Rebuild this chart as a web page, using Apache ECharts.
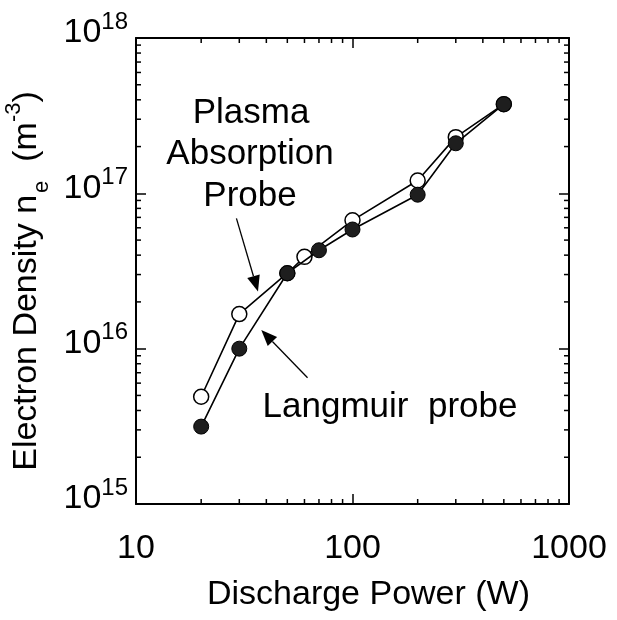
<!DOCTYPE html>
<html><head><meta charset="utf-8">
<script src="https://cdn.jsdelivr.net/npm/echarts@6/dist/echarts.min.js"></script>
<style>html,body{margin:0;padding:0;background:#fff}#c{width:617px;height:620px}</style>
</head><body><div id="c"></div>
<script>
// ---- data ----
const plasmaPower = [20, 30, 50, 60, 100, 200, 300, 500];
const plasmaDensity = [4.9e15, 1.67e16, 3.06e16, 3.9e16, 6.7e16, 1.21e17, 2.3e17, 3.75e17];
const langmuirPower = [20, 30, 50, 70, 100, 200, 300, 500];
const langmuirDensity = [3.15e15, 1.0e16, 3.06e16, 4.3e16, 5.85e16, 9.8e16, 2.1e17, 3.75e17];
const xMinorTicks = [20, 30, 40, 50, 60, 70, 80, 90, 200, 300, 400, 500, 600, 700, 800, 900];
const yMinorTicks = [2e15, 3e15, 4e15, 5e15, 6e15, 7e15, 8e15, 9e15,
                     2e16, 3e16, 4e16, 5e16, 6e16, 7e16, 8e16, 9e16,
                     2e17, 3e17, 4e17, 5e17, 6e17, 7e17, 8e17, 9e17];
const xRange = [10, 1000];
const yRange = [1e15, 1e18];
// annotation anchors (data space): [tailX, tailY, tipX, tipY]
const plasmaArrow = [29.1, 6.9e16, 36.6, 2.33e16];
const langmuirArrow = [62.0, 6.5e15, 37.9, 1.32e16];

const FONT = '"Liberation Sans", Arial, Helvetica, sans-serif';
const chart = echarts.init(document.getElementById('c'), null, {renderer: 'canvas'});

function supLabel(v) {
  const e = Math.round(Math.log10(v));
  return '{b|10}{s|' + e + '}';
}
const supRich = {
  b: {fontSize: 34, fontFamily: FONT, color: '#000', lineHeight: 40, verticalAlign: 'bottom'},
  s: {fontSize: 24, fontFamily: FONT, color: '#000', lineHeight: 24, verticalAlign: 'top'}
};

function minorX(params, api) {
  const v = api.value(0);
  const b = api.coord([v, yRange[0]]);
  const t = api.coord([v, yRange[1]]);
  return {type: 'group', children: [
    {type: 'line', shape: {x1: b[0], y1: b[1], x2: b[0], y2: b[1] - 5}, style: {stroke: '#000', lineWidth: 1.5}},
    {type: 'line', shape: {x1: t[0], y1: t[1], x2: t[0], y2: t[1] + 5}, style: {stroke: '#000', lineWidth: 1.5}}
  ]};
}
function minorY(params, api) {
  const v = api.value(1);
  const l = api.coord([xRange[0], v]);
  const r = api.coord([xRange[1], v]);
  return {type: 'group', children: [
    {type: 'line', shape: {x1: l[0], y1: l[1], x2: l[0] + 5, y2: l[1]}, style: {stroke: '#000', lineWidth: 1.5}},
    {type: 'line', shape: {x1: r[0], y1: r[1], x2: r[0] - 5, y2: r[1]}, style: {stroke: '#000', lineWidth: 1.5}}
  ]};
}

const axisCommon = {
  type: 'log', logBase: 10,
  axisLine: {show: true, lineStyle: {color: '#000', width: 2}},
  axisTick: {show: true, inside: true, length: 10, lineStyle: {color: '#000', width: 1.5}},
  splitLine: {show: false},
  minorTick: {show: false}
};

chart.setOption({
  animation: false,
  backgroundColor: '#fff',
  grid: {left: 136, right: 48, top: 38, bottom: 116, containLabel: false, outerBoundsMode: 'none'},
  xAxis: [
    Object.assign({}, axisCommon, {
      position: 'bottom', min: xRange[0], max: xRange[1],
      axisLabel: {margin: 28, fontSize: 34, fontFamily: FONT, color: '#000', formatter: v => String(Math.round(v))},
      name: 'Discharge Power (W)', nameLocation: 'middle', nameGap: 74,
      nameTextStyle: {fontSize: 34, fontFamily: FONT, color: '#000', padding: [0, 0, 0, 32]}
    }),
    Object.assign({}, axisCommon, {
      position: 'top', min: xRange[0], max: xRange[1], axisLabel: {show: false}
    })
  ],
  yAxis: [
    Object.assign({}, axisCommon, {
      position: 'left', min: yRange[0], max: yRange[1],
      axisLabel: {margin: 8, formatter: supLabel, rich: supRich, padding: [0, 0, 16, 0]},
      name: '{t|Electron Density n}{sub|e}{t|  (m}{sup|-3}{t|)}', nameLocation: 'middle', nameRotate: 90, nameGap: 74,
      nameTextStyle: {
        padding: [0, 20, 0, 0],
        rich: {
          t: {fontSize: 34, fontFamily: FONT, color: '#000', lineHeight: 40, verticalAlign: 'middle'},
          sub: {fontSize: 22, fontFamily: FONT, color: '#000', lineHeight: 22, verticalAlign: 'bottom', padding: [0, 0, -6, 2]},
          sup: {fontSize: 22, fontFamily: FONT, color: '#000', lineHeight: 22, verticalAlign: 'top', padding: [-4, 0, 0, 0]}
        }
      }
    }),
    Object.assign({}, axisCommon, {
      position: 'right', min: yRange[0], max: yRange[1], axisLabel: {show: false}
    })
  ],
  series: [
    {type: 'custom', renderItem: minorX, data: xMinorTicks.map(v => [v, yRange[0]]), silent: true, z: 1},
    {type: 'custom', renderItem: minorY, data: yMinorTicks.map(v => [xRange[0], v]), silent: true, z: 1},
    {
      name: 'Plasma Absorption Probe', type: 'line', z: 3,
      data: plasmaPower.map((p, i) => [p, plasmaDensity[i]]),
      symbol: 'circle', symbolSize: 15,
      lineStyle: {color: '#000', width: 1.6},
      itemStyle: {color: '#fff', borderColor: '#000', borderWidth: 1.5}
    },
    {
      name: 'Langmuir probe', type: 'line', z: 4,
      data: langmuirPower.map((p, i) => [p, langmuirDensity[i]]),
      symbol: 'circle', symbolSize: 15,
      lineStyle: {color: '#000', width: 1.6},
      itemStyle: {color: '#1e1e1e', borderColor: '#000', borderWidth: 1}
    }
  ]
});

function arrow(a) {
  const tail = chart.convertToPixel({xAxisIndex: 0, yAxisIndex: 0}, [a[0], a[1]]);
  const tip = chart.convertToPixel({xAxisIndex: 0, yAxisIndex: 0}, [a[2], a[3]]);
  const dx = tip[0] - tail[0], dy = tip[1] - tail[1];
  const L = Math.sqrt(dx * dx + dy * dy);
  const ux = dx / L, uy = dy / L;
  const hl = 16, hw = 6.5;
  const bx = tip[0] - ux * hl, by = tip[1] - uy * hl;
  return [
    {type: 'line', shape: {x1: tail[0], y1: tail[1], x2: bx, y2: by}, style: {stroke: '#000', lineWidth: 1.3}, z: 10},
    {type: 'polygon', shape: {points: [[tip[0], tip[1]], [bx - uy * hw, by + ux * hw], [bx + uy * hw, by - ux * hw]]},
      style: {fill: '#000'}, z: 10}
  ];
}

const txt = {fontSize: 35, fontFamily: FONT, fill: '#000', align: 'center', verticalAlign: 'middle'};
chart.setOption({
  graphic: [
    {type: 'text', x: 251, y: 113, style: Object.assign({text: 'Plasma'}, txt), z: 10},
    {type: 'text', x: 250, y: 154, style: Object.assign({text: 'Absorption'}, txt), z: 10},
    {type: 'text', x: 250, y: 196, style: Object.assign({text: 'Probe'}, txt), z: 10},
    {type: 'text', x: 390, y: 407, style: Object.assign({text: 'Langmuir  probe'}, txt), z: 10}
  ].concat(arrow(plasmaArrow), arrow(langmuirArrow))
});
</script>
</body></html>
